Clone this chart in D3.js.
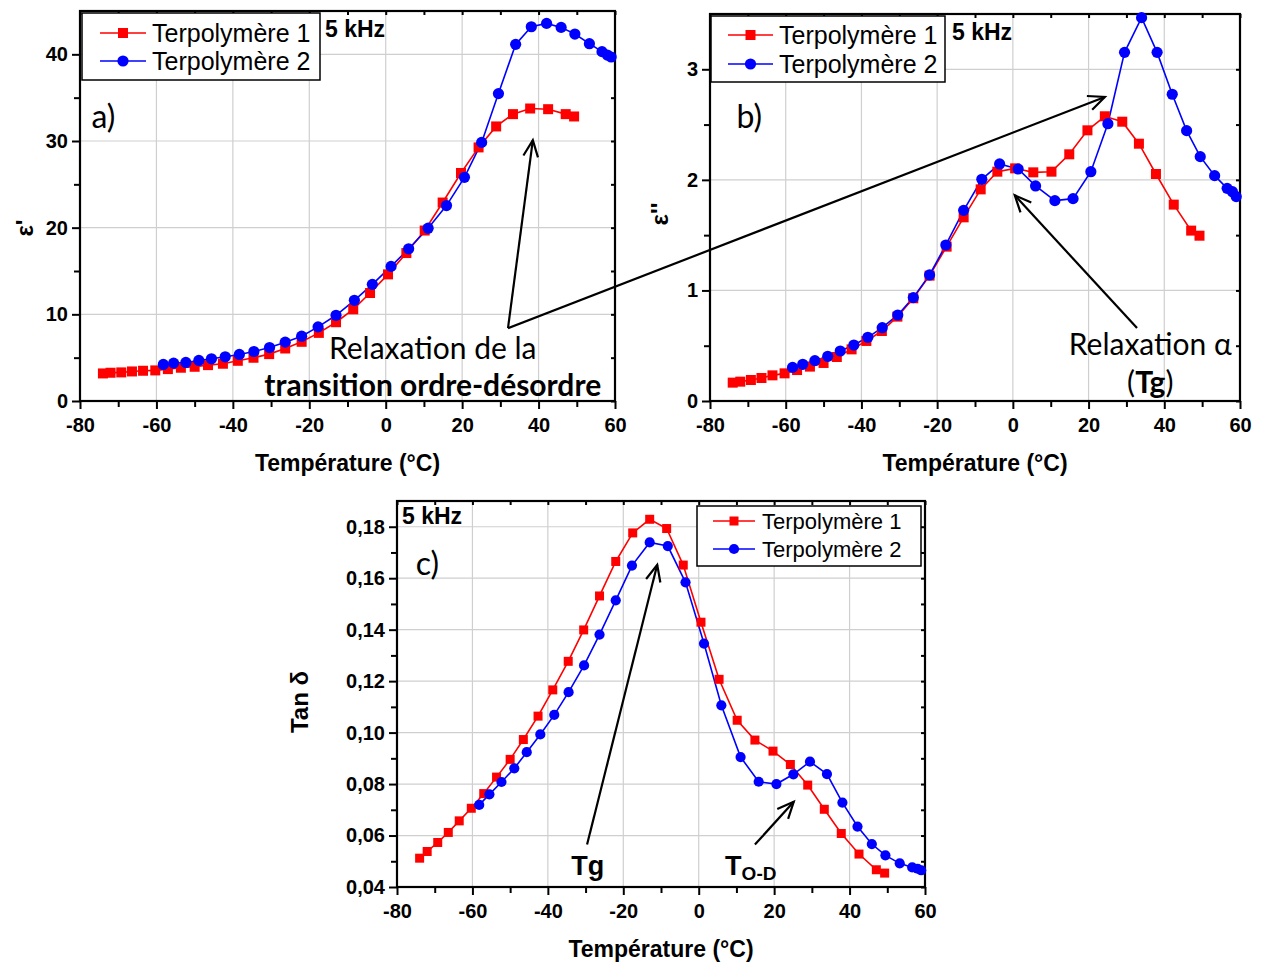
<!DOCTYPE html>
<html><head><meta charset="utf-8">
<script src="https://cdn.jsdelivr.net/npm/d3@7"></script>
<style>
body{margin:0;background:#fff;}
svg{display:block;}
</style></head>
<body>
<svg id="chart" width="1261" height="962"></svg>
<script>
// ---------- DATA ----------
const tempsT1 = [-74,-72,-69.2,-66.4,-63.5,-60.3,-57,-53.6,-50,-46.5,-42.6,-38.7,-34.6,-30.5,-26.3,-22,-17.5,-13,-8.5,-4.1,0.6,5.4,10.2,14.9,19.7,24.3,28.9,33.3,37.8,42.5,47.1,49.3];
const tempsT2 = [-58.2,-55.5,-52.3,-48.9,-45.6,-42,-38.3,-34.5,-30.4,-26.3,-22,-17.7,-13,-8.2,-3.5,1.4,6,11.1,15.9,20.6,25.1,29.5,34,38.1,42.1,45.9,49.5,53.3,56.6,58,59];

const epsPrimeT1 = [3.18,3.26,3.30,3.41,3.49,3.53,3.68,3.84,3.95,4.14,4.30,4.64,4.99,5.41,6.06,6.83,7.86,9.09,10.58,12.46,14.61,17.07,19.67,22.90,26.31,29.26,31.68,33.10,33.75,33.67,33.10,32.83];
const epsPrimeT2 = [4.22,4.37,4.45,4.68,4.87,5.10,5.37,5.71,6.17,6.79,7.48,8.55,9.89,11.62,13.46,15.53,17.56,19.94,22.55,25.81,29.84,35.47,41.15,43.18,43.57,43.11,42.34,41.23,40.31,39.92,39.69];

const epsSecT1 = [0.166,0.175,0.190,0.208,0.232,0.250,0.280,0.311,0.344,0.398,0.467,0.543,0.633,0.763,0.929,1.134,1.396,1.661,1.914,2.074,2.104,2.068,2.074,2.231,2.448,2.575,2.526,2.327,2.053,1.776,1.541,1.495];
const epsSecT2 = [0.304,0.332,0.365,0.404,0.452,0.506,0.576,0.663,0.778,0.935,1.140,1.411,1.724,2.005,2.144,2.098,1.945,1.812,1.830,2.074,2.508,3.153,3.467,3.153,2.774,2.445,2.210,2.038,1.923,1.893,1.848];

const tanT1 = [0.0512,0.0538,0.0573,0.0612,0.0657,0.0706,0.0763,0.0827,0.0896,0.0973,0.1064,0.1166,0.1277,0.1399,0.1531,0.1665,0.1776,0.1829,0.1793,0.1651,0.1429,0.1207,0.1048,0.0971,0.0928,0.0876,0.0796,0.0702,0.0608,0.0528,0.0467,0.0454];
const tanT2 = [0.0719,0.0760,0.0808,0.0861,0.0924,0.0993,0.1069,0.1157,0.1261,0.1381,0.1514,0.1649,0.1739,0.1725,0.1584,0.1346,0.1106,0.0905,0.0809,0.0800,0.0838,0.0887,0.0839,0.0728,0.0635,0.0567,0.0523,0.0492,0.0476,0.0471,0.0465];

const seriesNames = ["Terpolymère 1","Terpolymère 2"];
const xTicks = [-80,-60,-40,-20,0,20,40,60];
const yTicksA = [0,10,20,30,40];
const yTicksB = [0,1,2,3];
const yTicksC = [0.04,0.06,0.08,0.10,0.12,0.14,0.16,0.18];
const freqLabel = "5 kHz";

// ---------- DRAW ----------
const svg = d3.select("#chart");
const RED = "#ff0000", BLUE = "#0000ff";
const tickFont = '"Liberation Sans",Arial,sans-serif';
const legFont = '"Liberation Sans",Arial,sans-serif';
const annFont = 'Lato,"Open Sans",sans-serif';
const hyph = f => d => f(d).replace("−","-");

function panel(cfg){
  const g = svg.append("g");
  const x = d3.scaleLinear().domain([-80,60]).range([cfg.left,cfg.right]);
  const y = d3.scaleLinear().domain(cfg.yDomain).range([cfg.bottom,cfg.top]);
  // grid
  g.append("g").selectAll("line").data(xTicks.slice(1,-1)).join("line")
    .attr("x1",d=>x(d)).attr("x2",d=>x(d)).attr("y1",cfg.top).attr("y2",cfg.bottom)
    .attr("stroke","#cfcfcf").attr("stroke-width",1.2);
  g.append("g").selectAll("line").data(cfg.yTicks.filter(t=>t>cfg.yDomain[0])).join("line")
    .attr("x1",cfg.left).attr("x2",cfg.right).attr("y1",d=>y(d)).attr("y2",d=>y(d))
    .attr("stroke","#cfcfcf").attr("stroke-width",1.2);
  // axes
  const xMinor = d3.range(-70,60,20);
  const yMinor = cfg.yMinor;
  g.append("g").attr("transform",`translate(0,${cfg.bottom})`)
    .call(d3.axisBottom(x).tickValues(xTicks).tickSize(8).tickPadding(9).tickFormat(hyph(d3.format("d"))));
  g.append("g").attr("transform",`translate(0,${cfg.bottom})`)
    .call(d3.axisBottom(x).tickValues(xMinor).tickSize(6).tickFormat(""));
  g.append("g").attr("transform",`translate(${cfg.left},0)`)
    .call(d3.axisLeft(y).tickValues(cfg.yTicks).tickSize(8).tickPadding(4).tickFormat(cfg.fmt));
  g.append("g").attr("transform",`translate(${cfg.left},0)`)
    .call(d3.axisLeft(y).tickValues(yMinor).tickSize(6).tickFormat(""));
  // mirror ticks
  g.append("g").attr("transform",`translate(0,${cfg.top})`)
    .call(d3.axisBottom(x).tickValues(xTicks.concat(xMinor)).tickSize(4).tickFormat(""));
  g.append("g").attr("transform",`translate(${cfg.right},0)`)
    .call(d3.axisLeft(y).tickValues(cfg.yTicks.concat(yMinor)).tickSize(4).tickFormat(""));
  g.selectAll(".domain").remove();
  g.selectAll(".tick line").attr("stroke","#000").attr("stroke-width",2);
  g.selectAll(".tick text").attr("font-size",20).attr("font-family",tickFont).attr("font-weight","bold").attr("fill","#000");
  // frame
  g.append("rect").attr("x",cfg.left).attr("y",cfg.top).attr("width",cfg.right-cfg.left).attr("height",cfg.bottom-cfg.top)
    .attr("fill","none").attr("stroke","#000").attr("stroke-width",2.2);
  // series
  const line = d3.line().x(d=>x(d[0])).y(d=>y(d[1]));
  const s1 = tempsT1.map((t,i)=>[t,cfg.v1[i]]);
  const s2 = tempsT2.map((t,i)=>[t,cfg.v2[i]]);
  g.append("path").datum(s1).attr("d",line).attr("fill","none").attr("stroke",RED).attr("stroke-width",1.6);
  g.append("path").datum(s2).attr("d",line).attr("fill","none").attr("stroke",BLUE).attr("stroke-width",1.6);
  const ms = cfg.ms;
  g.append("g").selectAll("rect").data(s1).join("rect")
    .attr("x",d=>x(d[0])-ms/2).attr("y",d=>y(d[1])-ms/2).attr("width",ms).attr("height",ms).attr("fill",RED);
  g.append("g").selectAll("circle").data(s2).join("circle")
    .attr("cx",d=>x(d[0])).attr("cy",d=>y(d[1])).attr("r",ms/2+0.6).attr("fill",BLUE);
  // x title
  g.append("text").attr("x",(cfg.left+cfg.right)/2).attr("y",cfg.bottom+70)
    .attr("text-anchor","middle").attr("font-family",tickFont).attr("font-weight","bold").attr("font-size",23)
    .attr("fill","#000").text("Température (°C)");
  // y title
  g.append("text").attr("transform",`translate(${cfg.ytX},${cfg.ytY}) rotate(-90)`)
    .attr("text-anchor","middle").attr("font-family",tickFont).attr("font-weight","bold").attr("font-size",cfg.ytSize)
    .attr("fill","#000").text(cfg.yTitle);
  // legend
  const L = cfg.leg;
  g.append("rect").attr("x",L.x).attr("y",L.y).attr("width",L.w).attr("height",L.h)
    .attr("fill","#fff").attr("stroke","#000").attr("stroke-width",1.5);
  [[RED,"rect"],[BLUE,"circle"]].forEach(([c,shape],i)=>{
    const cy = L.y + L.row0 + i*L.dy;
    g.append("line").attr("x1",L.x+L.lx0).attr("x2",L.x+L.lx1).attr("y1",cy).attr("y2",cy).attr("stroke",c).attr("stroke-width",1.6);
    const mx = (L.x+L.lx0+L.x+L.lx1)/2;
    if(shape==="rect") g.append("rect").attr("x",mx-ms/2).attr("y",cy-ms/2).attr("width",ms).attr("height",ms).attr("fill",c);
    else g.append("circle").attr("cx",mx).attr("cy",cy).attr("r",ms/2+0.6).attr("fill",c);
    g.append("text").attr("x",L.x+L.tx).attr("y",cy+L.fs*0.36).attr("font-family",legFont).attr("font-size",L.fs)
      .attr("fill","#000").text(seriesNames[i]);
  });
  // freq
  g.append("text").attr("x",cfg.freq[0]).attr("y",cfg.freq[1]).attr("font-family",tickFont).attr("font-weight","bold")
    .attr("font-size",23).attr("fill","#000").text(freqLabel);
  // panel letter
  g.append("text").attr("x",x(cfg.letter[0])).attr("y",y(cfg.letter[1])).attr("font-family",annFont)
    .attr("font-size",32).attr("fill","#000").text(cfg.letter[2]);
  return {x,y,g};
}

function arrowHead(g,x1,y1,x2,y2,len){
  const a = Math.atan2(y2-y1,x2-x1);
  const sp = 0.42;
  const p1 = [x2-len*Math.cos(a-sp), y2-len*Math.sin(a-sp)];
  const p2 = [x2-len*Math.cos(a+sp), y2-len*Math.sin(a+sp)];
  g.append("path").attr("d",`M${p1[0]},${p1[1]}L${x2},${y2}L${p2[0]},${p2[1]}`)
    .attr("fill","none").attr("stroke","#000").attr("stroke-width",2.2);
}
function arrow(g,x1,y1,x2,y2){
  g.append("line").attr("x1",x1).attr("y1",y1).attr("x2",x2).attr("y2",y2).attr("stroke","#000").attr("stroke-width",2.2);
  arrowHead(g,x1,y1,x2,y2,18);
}

const A = panel({left:80,right:615,top:11,bottom:401,yDomain:[0,45],yTicks:yTicksA,yMinor:[5,15,25,35],
  fmt:d3.format("d"),v1:epsPrimeT1,v2:epsPrimeT2,ms:10,ytX:33,ytY:228,ytSize:24,yTitle:"ε'",
  leg:{x:82,y:13,w:238,h:67,row0:20,dy:28,lx0:18,lx1:64,tx:70,fs:25},freq:[325,37],letter:[-77,31.5,"a)"]});
const B = panel({left:710,right:1240,top:14,bottom:401,yDomain:[0,3.5],yTicks:yTicksB,yMinor:[0.5,1.5,2.5],
  fmt:d3.format("d"),v1:epsSecT1,v2:epsSecT2,ms:10,ytX:668,ytY:214,ytSize:24,yTitle:"ε''",
  leg:{x:711,y:16,w:234,h:66,row0:19,dy:29,lx0:17,lx1:62,tx:68,fs:25},freq:[952,40],letter:[-73,2.47,"b)"]});
const C = panel({left:397,right:925,top:501,bottom:887,yDomain:[0.04,0.19],yTicks:yTicksC,yMinor:[0.05,0.07,0.09,0.11,0.13,0.15,0.17],
  fmt:d => d3.format(".2f")(d).replace(".",","),v1:tanT1,v2:tanT2,ms:9,ytX:308,ytY:702,ytSize:24,yTitle:"Tan δ",
  leg:{x:697,y:506,w:224,h:60,row0:15,dy:28,lx0:16,lx1:58,tx:65,fs:22},freq:[402,524],letter:[-75,0.1613,"c)"]});

// ---------- ANNOTATIONS (data coordinates) ----------
const gTop = svg.append("g");
arrow(gTop, A.x(32),A.y(8.4), A.x(38.5),A.y(30.1));
arrow(gTop, A.x(32),A.y(8.4), B.x(24.3),B.y(2.75));
gTop.append("text").attr("x",A.x(12.3)).attr("y",A.y(4.9)).attr("text-anchor","middle")
  .attr("font-family",annFont).attr("font-size",30).attr("fill","#000").text("Relaxation de la");
gTop.append("text").attr("x",A.x(12.3)).attr("y",A.y(0.6)).attr("text-anchor","middle")
  .attr("font-family",annFont).attr("font-weight","bold").attr("font-size",30).attr("fill","#000").text("transition ordre-désordre");

arrow(gTop, B.x(32.8),B.y(0.66), B.x(0.5),B.y(1.86));
gTop.append("text").attr("x",B.x(36.3)).attr("y",B.y(0.42)).attr("text-anchor","middle")
  .attr("font-family",annFont).attr("font-size",30).attr("fill","#000").text("Relaxation α");
const tg = gTop.append("text").attr("x",B.x(36.3)).attr("y",B.y(0.07)).attr("text-anchor","middle")
  .attr("font-family",annFont).attr("font-size",30).attr("fill","#000");
tg.append("tspan").text("(");
tg.append("tspan").attr("font-weight","bold").text("Tg");
tg.append("tspan").text(")");

arrow(gTop, C.x(-29.6),C.y(0.0565), C.x(-11),C.y(0.1652));
gTop.append("text").attr("x",C.x(-29.4)).attr("y",C.y(0.0445)).attr("text-anchor","middle")
  .attr("font-family",tickFont).attr("font-weight","bold").attr("font-size",27).attr("fill","#000").text("Tg");
arrow(gTop, C.x(14.9),C.y(0.0565), C.x(25.2),C.y(0.0731));
const tod = gTop.append("text").attr("x",C.x(7)).attr("y",C.y(0.0445))
  .attr("font-family",tickFont).attr("font-weight","bold").attr("font-size",27).attr("fill","#000");
tod.append("tspan").text("T");
tod.append("tspan").attr("font-size",19).attr("dy",5).text("O-D");
</script>
</body></html>
